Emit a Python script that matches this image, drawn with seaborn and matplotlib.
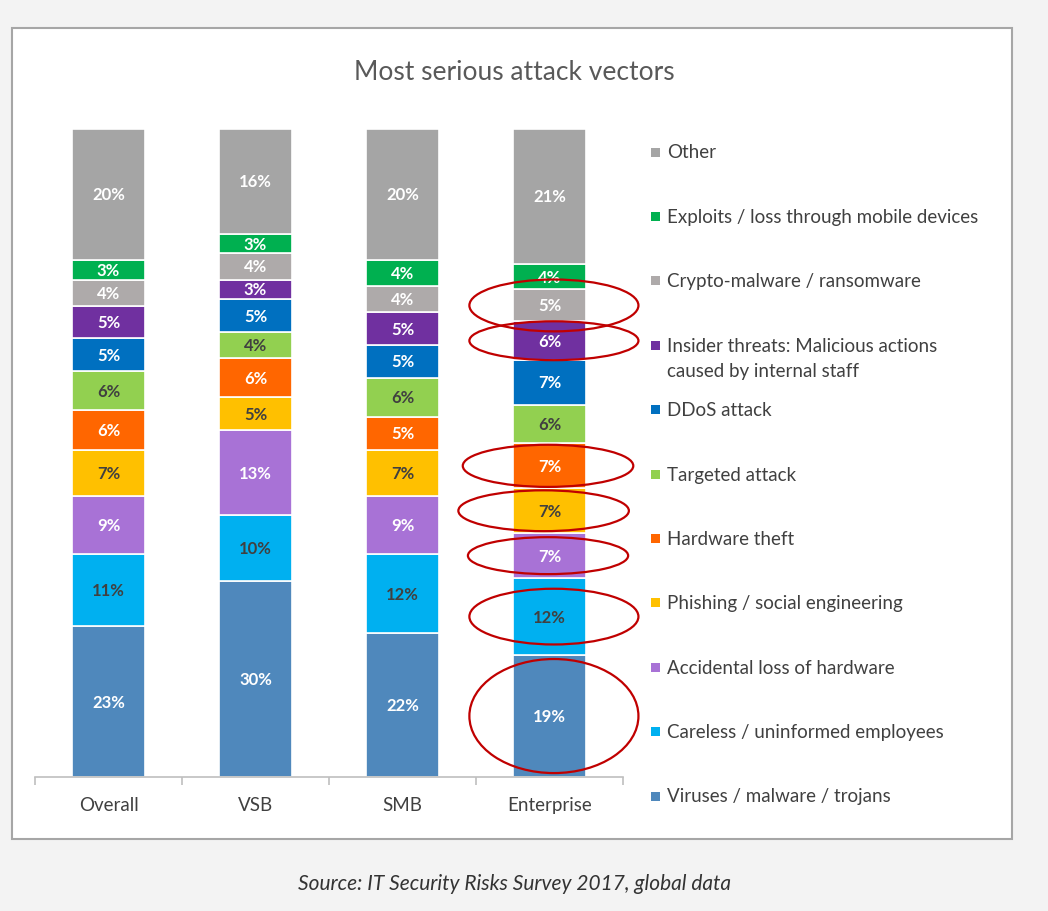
import numpy as np
import matplotlib
matplotlib.use("Agg")
import matplotlib.pyplot as plt
from matplotlib.patches import Ellipse, Rectangle
import seaborn as sns

# --- Data (percent of respondents, bottom to top of each bar) ---
groups = ["Overall", "VSB", "SMB", "Enterprise"]
series = [
    "Viruses / malware / trojans",
    "Careless / uninformed employees",
    "Accidental loss of hardware",
    "Phishing / social engineering",
    "Hardware theft",
    "Targeted attack",
    "DDoS attack",
    "Insider threats: Malicious actions\ncaused by internal staff",
    "Crypto-malware / ransomware",
    "Exploits / loss through mobile devices",
    "Other",
]
viruses = [23, 30, 22, 19]
careless = [11, 10, 12, 12]
accidental = [9, 13, 9, 7]
phishing = [7, 5, 7, 7]
hardware_theft = [6, 6, 5, 7]
targeted = [6, 4, 6, 6]
ddos = [5, 5, 5, 7]
insider = [5, 3, 5, 6]
crypto = [4, 4, 4, 5]
exploits = [3, 3, 4, 4]
other = [20, 16, 20, 21]

colors = ["#4f88bc", "#00b0f0", "#a872d6", "#ffc000", "#ff6600", "#92d050",
          "#0070c0", "#7030a0", "#aeaaaa", "#00b050", "#a5a5a5"]
dark_labels = {"Careless / uninformed employees", "Phishing / social engineering", "Targeted attack"}

# highlighted Enterprise segments: (series index, x offset, width, height)
highlights = [(8, 0.03, 1.15, 0.080), (7, 0.03, 1.15, 0.060), (4, -0.01, 1.16, 0.065),
              (3, -0.04, 1.16, 0.063), (2, -0.01, 1.09, 0.057), (1, 0.03, 1.15, 0.086),
              (0, 0.03, 1.15, 0.176)]

values = np.array([viruses, careless, accidental, phishing, hardware_theft, targeted,
                   ddos, insider, crypto, exploits, other])
shares = values / values.sum(axis=0)

# --- Style ---
sns.set_style("white")
plt.rcParams["font.family"] = ["Lato", "DejaVu Sans"]

W, H = 1048, 912
fig = plt.figure(figsize=(W / 100, H / 100), dpi=100, facecolor="#f3f3f3")
fig.patches.append(Rectangle((12 / W, 1 - 840 / H), 1000 / W, 811 / H, transform=fig.transFigure,
                             facecolor="white", edgecolor="#a6a6a6", lw=1.5, zorder=-1))
ax = fig.add_axes([35 / W, 1 - 778 / H, 588 / W, 648 / H])
ax.set_facecolor("none")

# --- Stacked bars ---
bottom = np.zeros(len(groups))
mids = []
for i, name in enumerate(series):
    sns.barplot(x=groups, y=shares[i], bottom=bottom, color=colors[i], width=0.5,
                saturation=1, errorbar=None, edgecolor="white", linewidth=1.2, ax=ax)
    ax.bar_label(ax.containers[-1], labels=[f"{v}%" for v in values[i]], label_type="center",
                 color="#404040" if name in dark_labels else "white",
                 fontsize=12, fontweight="bold")
    mids.append(bottom + shares[i] / 2)
    bottom = bottom + shares[i]

# --- Red highlight ellipses on Enterprise ---
for idx, dx, w, h in highlights:
    ax.add_patch(Ellipse((3 + dx, mids[idx][3]), w, h, fill=False, edgecolor="#c00000",
                         lw=1.6, clip_on=False, zorder=5))

ax.set_xlim(-0.5, 3.5)
ax.set_ylim(0, 1)
ax.set_xlabel("")
ax.set_ylabel("")
ax.set_yticks([])
for s in ["left", "right", "top"]:
    ax.spines[s].set_visible(False)
ax.spines["bottom"].set_color("#bfbfbf")
ax.spines["bottom"].set_linewidth(1.2)
ax.set_xticks(np.arange(-0.5, 4, 1), minor=True)
ax.tick_params(axis="x", which="minor", bottom=True, length=6, color="#bfbfbf", width=1.2,
               direction="out")
ax.tick_params(axis="x", which="major", length=0, pad=14, labelsize=13.5, labelcolor="#404040")

# --- Legend (top entry = top of stack) ---
y0, step = 153, 64.4
for k, i in enumerate(range(len(series) - 1, -1, -1)):
    y = y0 + k * step
    fig.patches.append(Rectangle((651 / W, 1 - (y + 4.5) / H), 9 / W, 9 / H,
                                 transform=fig.transFigure, facecolor=colors[i], lw=0))
    for j, line in enumerate(series[i].split("\n")):
        fig.text(667 / W, 1 - (y + j * 25) / H, line, fontsize=13.5, color="#404040", va="center")

fig.text(514 / W, 1 - 72 / H, "Most serious attack vectors", fontsize=19, color="#595959",
         ha="center", va="center")
fig.text(515 / W, 1 - 884 / H, "Source: IT Security Risks Survey 2017, global data", fontsize=15,
         style="italic", color="#333333", ha="center", va="center")

fig.savefig("out.png", dpi=100, facecolor=fig.get_facecolor())
